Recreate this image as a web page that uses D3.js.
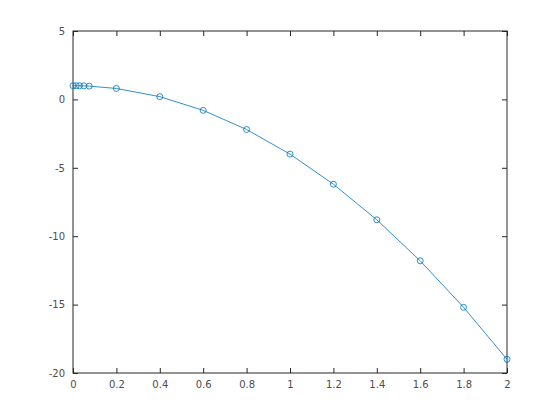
<!DOCTYPE html>
<html><head><meta charset="utf-8">
<script src="https://cdn.jsdelivr.net/npm/d3@7"></script>
<style>body{margin:0;background:#fff}svg{display:block}</style>
</head><body>
<script>
const xValues = [0, 0.015, 0.03, 0.05, 0.075, 0.2, 0.4, 0.6, 0.8, 1.0, 1.2, 1.4, 1.6, 1.8, 2.0];
const yValues = [1, 1, 1, 0.99, 0.97, 0.8, 0.2, -0.8, -2.2, -4, -6.2, -8.8, -11.8, -15.2, -19];
const xTicks = [0, 0.2, 0.4, 0.6, 0.8, 1, 1.2, 1.4, 1.6, 1.8, 2];
const yTicks = [5, 0, -5, -10, -15, -20];

const W = 560, H = 420;
const m = {l: 73, r: 53, t: 31, b: 47};
const svg = d3.select("body").append("svg").attr("width", W).attr("height", H);
const x = d3.scaleLinear().domain([0, 2]).range([m.l, W - m.r]);
const y = d3.scaleLinear().domain([-20, 5]).range([H - m.b, m.t]);

const axCol = "#262626";
const font = "DejaVu Sans, sans-serif";
function style(g, anchor) {
  g.select(".domain").remove();
  g.selectAll("line").attr("stroke", axCol);
  g.selectAll("text").attr("fill", "#4d4d4d").style("font-family", font).style("font-size", "10px");
}
const fmt = d3.format("");
const bx = svg.append("g").attr("transform", `translate(0,${H - m.b})`)
  .call(d3.axisBottom(x).tickValues(xTicks).tickFormat(d => String(d)).tickSize(-5).tickPadding(8));
style(bx);
const tx = svg.append("g").attr("transform", `translate(0,${m.t})`)
  .call(d3.axisTop(x).tickValues(xTicks).tickFormat("").tickSize(-5));
style(tx);
const ly = svg.append("g").attr("transform", `translate(${m.l},0)`)
  .call(d3.axisLeft(y).tickValues(yTicks).tickFormat(d => String(d)).tickSize(-5).tickPadding(8));
style(ly);
const ry = svg.append("g").attr("transform", `translate(${W - m.r},0)`)
  .call(d3.axisRight(y).tickValues(yTicks).tickFormat("").tickSize(-5));
style(ry);

svg.append("rect").attr("x", m.l).attr("y", m.t)
  .attr("width", W - m.r - m.l).attr("height", H - m.b - m.t)
  .attr("fill", "none").attr("stroke", axCol).attr("stroke-width", 1);

const pts = xValues.map((v, i) => [v, yValues[i]]);
svg.append("path").datum(pts)
  .attr("d", d3.line().x(d => x(d[0])).y(d => y(d[1])))
  .attr("fill", "none").attr("stroke", "#0072BD").attr("stroke-width", 0.8);
svg.selectAll("circle.pt").data(pts).enter().append("circle")
  .attr("class", "pt").attr("cx", d => x(d[0])).attr("cy", d => y(d[1])).attr("r", 3)
  .attr("fill", "none").attr("stroke", "#0072BD").attr("stroke-width", 0.8);
</script>
</body></html>
